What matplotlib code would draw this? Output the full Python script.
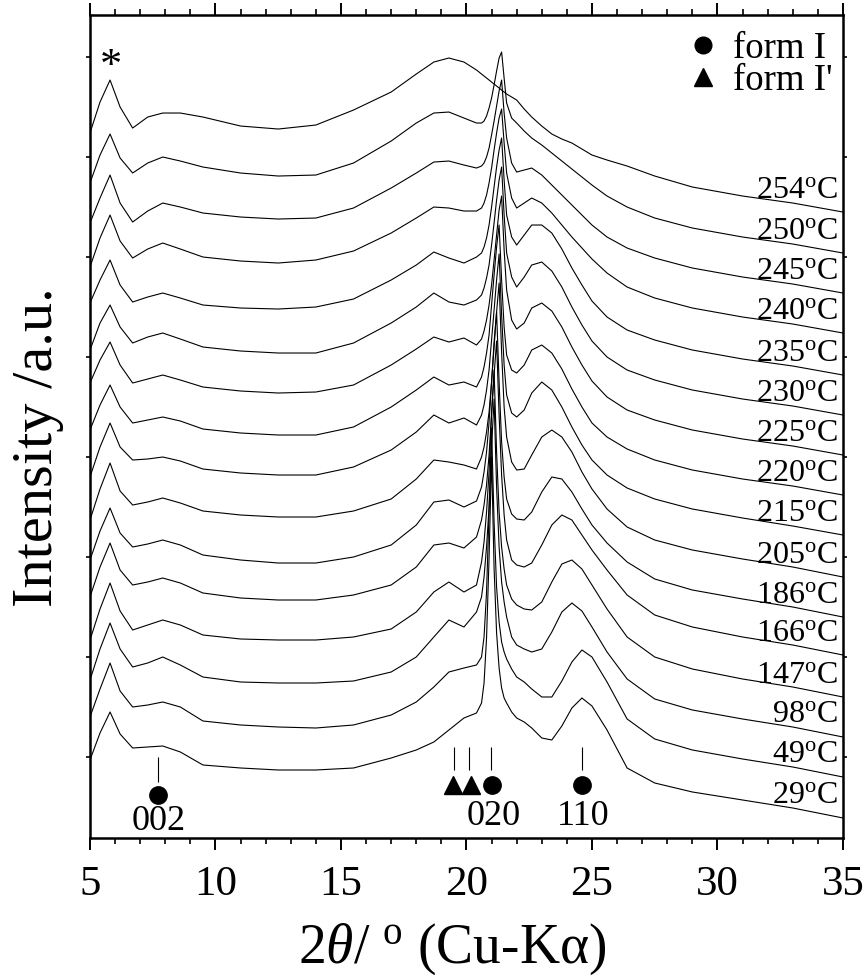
import matplotlib
matplotlib.use('Agg')
import matplotlib.pyplot as plt
from matplotlib.lines import Line2D

plt.rcParams['font.family'] = ['Liberation Serif', 'DejaVu Serif']
plt.rcParams['mathtext.fontset'] = 'custom'
plt.rcParams['mathtext.rm'] = 'Liberation Serif'
plt.rcParams['mathtext.it'] = 'Liberation Serif:italic'

# 2theta grid (deg) shared by all patterns
two_theta = [5.0, 5.4, 5.8, 6.2, 6.7, 7.3, 7.9, 8.6, 9.5, 11.0, 12.5, 14.0, 15.5, 17.0, 18.0, 18.7, 19.3, 19.9, 20.4,
             20.6, 20.7, 20.8, 20.9, 21.0, 21.1, 21.2, 21.3, 21.4, 21.5, 21.6, 21.8, 22.0,
             22.3, 22.6, 23.0, 23.4, 23.8, 24.2, 24.6, 25.0, 25.6, 26.4, 27.5, 29.0, 31.0, 33.0, 35.0]

temps = ['29', '49', '98', '147', '166', '186', '205', '215', '220', '225', '230', '235', '240', '245', '250', '254']
# vertical shift of each pattern (a.u.)
offsets = [-61, -20, 20, 60, 102, 140, 180, 222, 262, 302, 342, 382, 424, 464, 504, 545]

# intensity above the shifted baseline (a.u.)
i_29 = [58, 85, 106, 84, 70, 71, 72, 66, 53, 50, 48, 48, 50, 60, 68, 76, 88, 100, 105,
        115, 135, 180, 260, 361, 250, 185, 150, 130, 120, 115, 106, 100,
        96, 90, 80, 78, 92, 110, 120, 112, 88, 50, 35, 26, 18, 10, 0]
i_49 = [60, 88, 114, 86, 70, 72, 75, 70, 56, 52, 50, 49, 52, 62, 75, 90, 105, 109, 112,
        120, 140, 185, 265, 349, 255, 190, 155, 135, 125, 118, 108, 100,
        95, 88, 80, 80, 96, 115, 127, 120, 95, 58, 38, 27, 18, 10, 0]
i_98 = [57, 88, 114, 88, 70, 74, 80, 72, 60, 55, 54, 54, 56, 65, 80, 100, 117, 110, 125,
        140, 160, 190, 230, 290, 338, 250, 190, 155, 135, 120, 100, 92,
        88, 85, 88, 105, 125, 134, 126, 110, 85, 58, 38, 27, 18, 10, 0]
i_147 = [57, 88, 114, 86, 67, 72, 77, 72, 62, 58, 57, 57, 60, 68, 85, 105, 115, 105, 112,
         135, 155, 185, 225, 285, 327, 245, 185, 150, 128, 112, 98, 92,
         88, 87, 95, 115, 133, 137, 128, 112, 88, 60, 40, 28, 18, 10, 0]
i_166 = [58, 88, 112, 85, 70, 73, 77, 72, 62, 57, 55, 55, 60, 70, 88, 110, 112, 107, 118,
         135, 150, 170, 200, 240, 280, 314, 240, 180, 140, 115, 95, 90,
         88, 92, 110, 130, 140, 135, 120, 105, 85, 60, 40, 28, 18, 10, 0]
i_186 = [57, 86, 109, 84, 70, 73, 77, 72, 62, 57, 54, 54, 60, 72, 92, 115, 117, 110, 116,
         130, 145, 165, 195, 235, 275, 305, 235, 175, 140, 118, 103, 98,
         97, 105, 125, 140, 138, 125, 108, 92, 74, 55, 38, 27, 18, 10, 0]
i_205 = [57, 88, 114, 86, 72, 75, 79, 74, 66, 62, 60, 60, 66, 78, 98, 117, 115, 112, 108,
         120, 130, 145, 165, 195, 230, 265, 294, 225, 170, 140, 115, 107,
         108, 122, 140, 147, 140, 125, 105, 88, 68, 50, 37, 27, 18, 10, 0]
i_215 = [58, 88, 112, 88, 75, 76, 78, 74, 66, 62, 60, 60, 68, 85, 103, 120, 112, 117, 110,
         120, 130, 145, 165, 195, 225, 255, 281, 220, 170, 140, 122, 118,
         125, 142, 153, 145, 128, 108, 90, 75, 60, 47, 36, 26, 17, 9, 0]
i_220 = [65, 90, 110, 88, 72, 75, 78, 74, 66, 62, 60, 60, 68, 88, 105, 118, 110, 113, 108,
         118, 128, 142, 160, 190, 220, 248, 270, 215, 168, 140, 125, 122,
         130, 145, 150, 142, 126, 106, 88, 72, 58, 46, 35, 25, 16, 9, 0]
i_225 = [72, 95, 113, 90, 72, 76, 80, 75, 68, 64, 62, 63, 70, 90, 106, 118, 113, 117, 110,
         116, 124, 135, 150, 170, 195, 220, 245, 259, 205, 165, 135, 126,
         132, 147, 152, 144, 128, 108, 90, 74, 58, 45, 35, 25, 16, 9, 0]
i_230 = [65, 92, 110, 88, 72, 78, 82, 76, 68, 64, 62, 62, 72, 92, 108, 122, 113, 110, 115,
         120, 127, 137, 150, 170, 192, 215, 235, 248, 200, 162, 138, 128,
         138, 150, 153, 144, 128, 108, 90, 74, 58, 45, 35, 25, 16, 9, 0]
i_235 = [72, 95, 115, 90, 73, 78, 82, 77, 70, 67, 66, 68, 76, 95, 110, 123, 117, 112, 118,
         122, 128, 137, 150, 168, 188, 208, 225, 237, 195, 160, 138, 130,
         140, 150, 150, 142, 126, 107, 90, 74, 58, 45, 35, 25, 16, 9, 0]
i_240 = [66, 95, 118, 92, 75, 84, 90, 84, 76, 72, 70, 73, 82, 100, 115, 126, 125, 122, 122,
         125, 130, 138, 150, 165, 183, 200, 215, 224, 190, 160, 135, 125,
         130, 135, 130, 120, 108, 96, 85, 74, 60, 46, 35, 25, 16, 9, 0]
i_245 = [70, 95, 118, 90, 71, 82, 90, 86, 80, 76, 74, 75, 85, 105, 120, 131, 132, 128, 125,
         127, 130, 136, 145, 158, 172, 187, 202, 213, 180, 155, 130, 121,
         123, 125, 118, 108, 98, 88, 78, 68, 56, 45, 35, 25, 16, 9, 0]
i_250 = [70, 98, 119, 95, 80, 90, 96, 92, 86, 80, 77, 78, 90, 112, 130, 140, 141, 135, 130,
         130, 132, 137, 145, 155, 168, 182, 195, 201, 175, 150, 135, 130,
         122, 115, 108, 100, 92, 84, 76, 68, 57, 46, 35, 25, 16, 9, 0]
i_254 = [79, 110, 132, 105, 84, 95, 99, 99, 95, 86, 83, 87, 102, 120, 138, 150, 154, 150, 142,
         138, 136, 134, 132, 130, 128, 126, 124, 122, 120, 118, 115, 112,
         103, 95, 86, 78, 73, 69, 63, 57, 52, 46, 36, 25, 16, 9, 0]

patterns = [i_29, i_49, i_98, i_147, i_166, i_186, i_205, i_215,
            i_220, i_225, i_230, i_235, i_240, i_245, i_250, i_254]

# reflection markers
form1_pos = [7.7, 21.0, 24.6]
form1_y = [-38, -28, -28]
form1p_pos = [19.46, 20.18]
hkl_labels = ['002', '020', '110']
hkl_x = [7.75, 21.1, 24.65]

fig = plt.figure(figsize=(8.66, 9.76), dpi=100)
ax = fig.add_axes([0.1039, 0.1414, 0.8695, 0.8432])

for t, off, inten in zip(temps, offsets, patterns):
    ax.plot(two_theta, [off + v for v in inten], color='black', lw=0.8)
    ax.text(34.8, off + 22, t + r'$^{\rm o}$C', ha='right', va='center', fontsize=23)

# tick lines above markers
ax.vlines(7.7, -25, 0, color='black', lw=0.8)
ax.vlines([19.5, 20.1, 20.98, 24.6], -13, 10, color='black', lw=0.8)
ax.plot(form1_pos, form1_y, 'o', color='black', ms=12.5, ls='none')
ax.plot(form1p_pos, [-28, -28], '^', color='black', ms=13, ls='none')
for lab, xx in zip(hkl_labels, hkl_x):
    yy = -65 if lab == '002' else -60
    ax.text(xx, yy, lab, ha='center', va='center', fontsize=26)

ax.text(5.85, 690, '*', ha='center', va='center', fontsize=32)

handles = [Line2D([], [], ls='none', marker='o', color='black', ms=12, label='form I'),
           Line2D([], [], ls='none', marker='^', color='black', ms=13, label="form I'")]
ax.legend(handles=handles, loc='upper right', bbox_to_anchor=(1.008, 1.0), frameon=False,
          fontsize=26.5, handletextpad=0.3, labelspacing=-0.08, borderaxespad=0.05,
          handlelength=1.0)

ax.set_xlim(5, 35)
ax.set_ylim(-81, 742)
ax.set_xticks(range(5, 36, 5))
ax.set_xticks(range(5, 36), minor=True)
ax.set_yticks(range(0, 701, 100))
ax.set_yticklabels([])
ax.tick_params(axis='x', which='major', direction='out', length=8.5, width=1.4,
               labelsize=31, pad=11, top=True)
ax.tick_params(axis='x', which='minor', direction='out', length=4.5, width=1.2, top=True)
ax.tick_params(axis='y', which='major', direction='out', length=3, width=1.2, right=True)
for s in ax.spines.values():
    s.set_linewidth(1.8)

ax.set_xlabel(r'2$\theta$/ $^{\rm o}$ (Cu-K$\rm\alpha$)', fontsize=40)
ax.xaxis.set_label_coords(0.481, -0.102)
ax.set_ylabel('Intensity /a.u.', fontsize=42)
ax.yaxis.set_label_coords(-0.034, 0.475)

fig.savefig('out.png', dpi=100)
